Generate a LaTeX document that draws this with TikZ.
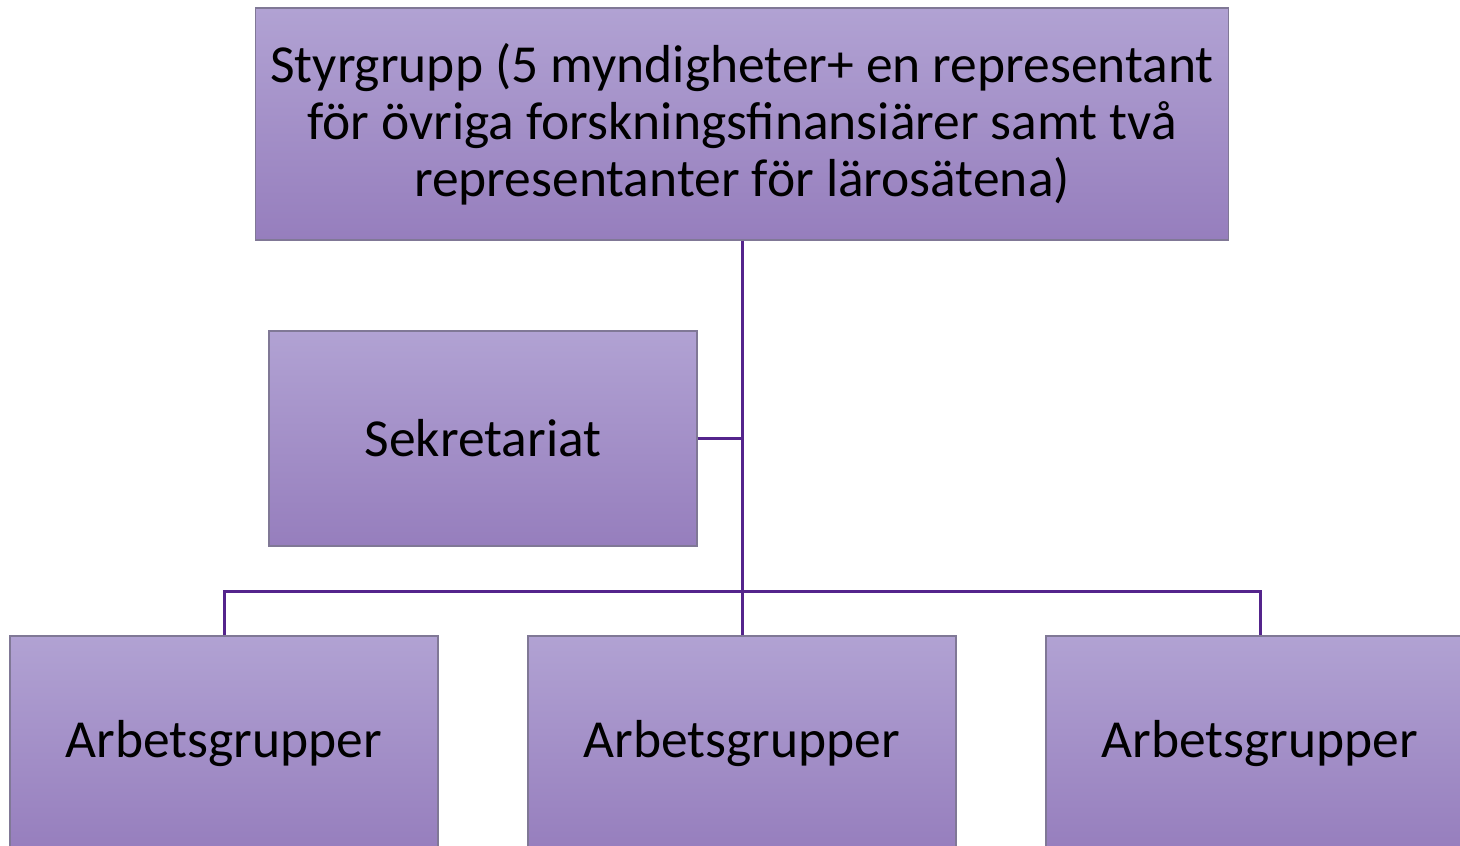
\documentclass[tikz,border=0pt]{standalone}
\usepackage{fontspec}
\setmainfont{Carlito}
\definecolor{boxtop}{RGB}{177,162,211}
\definecolor{boxbot}{RGB}{150,126,189}
\definecolor{boxedge}{RGB}{128,120,150}
\definecolor{linkcol}{RGB}{84,36,140}
\tikzset{
  orgbox/.style={draw=boxedge, line width=1.2pt, top color=boxtop, bottom color=boxbot,
    inner sep=0pt, align=center, text=black, font=\fontsize{53.5}{57}\selectfont},
  link/.style={draw=linkcol, line width=3pt}
}
\begin{document}
\begin{tikzpicture}[x=1pt,y=-1pt]
\useasboundingbox (0,0) rectangle (1460,846);
\clip (0,0) rectangle (1460,846);
\fill[white] (0,0) rectangle (1460,846);
\node[orgbox, minimum width=973pt, minimum height=232pt] (top) at (742,124)
  {Styrgrupp (5 myndigheter+ en representant\\för övriga forskningsfinansiärer samt två\\representanter för lärosätena)};
\node[orgbox, minimum width=428pt, minimum height=215pt] (sek) at (483,438.5) {Sekretariat};
\node[orgbox, minimum width=428pt, minimum height=215pt] (a1) at (224,743.5) {Arbetsgrupper};
\node[orgbox, minimum width=428pt, minimum height=215pt] (a2) at (742,743.5) {Arbetsgrupper};
\node[orgbox, minimum width=428pt, minimum height=215pt] (a3) at (1260,743.5) {Arbetsgrupper};
\coordinate (bus) at (742,591);
\draw[link] (top.south) -- (a2.north);
\draw[link] (sek.east) -- (sek.east -| top.south);
\draw[link] (a1.north) |- (bus) -| (a3.north);
\end{tikzpicture}
\end{document}
